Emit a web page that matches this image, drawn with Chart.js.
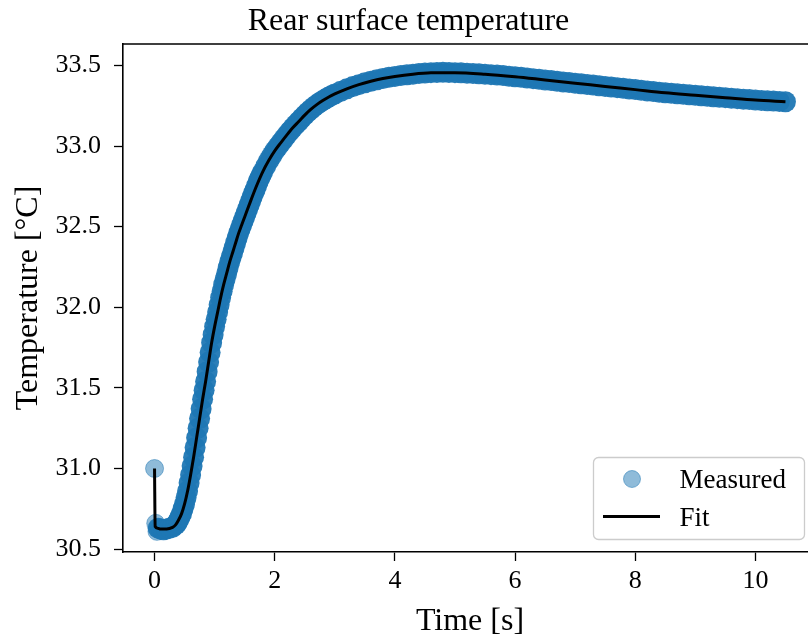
<!DOCTYPE html>
<html><head><meta charset="utf-8">
<script src="https://cdn.jsdelivr.net/npm/chart.js@4.4.1/dist/chart.umd.min.js"></script>
<style>
html,body{margin:0;padding:0;background:#fff;overflow:hidden;}
#wrap{position:relative;width:808px;height:644px;overflow:hidden;background:#fff;}
canvas{display:block;}
</style></head><body>
<div id="wrap"><canvas id="c" width="840" height="644" style="width:840px;height:644px"></canvas></div>
<script>
const titleText = 'Rear surface temperature';
const xLabel = 'Time [s]';
const yLabel = 'Temperature [°C]';
const legendLabels = ['Measured', 'Fit'];
const xTicks = [0, 2, 4, 6, 8, 10];
const yTicks = [30.5, 31.0, 31.5, 32.0, 32.5, 33.0, 33.5];

const measuredTime = [
  0, 0.02, 0.04, 0.06, 0.10, 0.15, 0.20, 0.25, 0.30, 0.35,
  0.375, 0.400, 0.425, 0.450, 0.475, 0.500, 0.525, 0.550, 0.575, 0.600,
  0.625, 0.650, 0.675, 0.700, 0.725, 0.750, 0.775, 0.800, 0.825, 0.850,
  0.875, 0.900, 0.925, 0.950, 0.975, 1.000, 1.025, 1.050, 1.075, 1.100,
  1.125, 1.150, 1.175, 1.200, 1.225, 1.250, 1.275, 1.300, 1.325, 1.350,
  1.375, 1.400, 1.425, 1.450, 1.475, 1.500, 1.525, 1.550, 1.575, 1.600,
  1.625, 1.650, 1.675, 1.700, 1.725, 1.750, 1.775, 1.800,
  1.85, 1.90, 1.95, 2.00, 2.05, 2.10, 2.15, 2.20, 2.25, 2.30,
  2.35, 2.40, 2.45, 2.50, 2.55, 2.60, 2.65, 2.70, 2.75, 2.80,
  2.85, 2.90, 2.95, 3.00,
  3.1, 3.2, 3.3, 3.4, 3.5, 3.6, 3.7, 3.8, 3.9, 4.0,
  4.1, 4.2, 4.3, 4.4, 4.5, 4.6, 4.7, 4.8, 4.9, 5.0,
  5.1, 5.2, 5.3, 5.4, 5.5, 5.6, 5.7, 5.8, 5.9, 6.0,
  6.1, 6.2, 6.3, 6.4, 6.5, 6.6, 6.7, 6.8, 6.9, 7.0,
  7.1, 7.2, 7.3, 7.4, 7.5, 7.6, 7.7, 7.8, 7.9, 8.0,
  8.1, 8.2, 8.3, 8.4, 8.5, 8.6, 8.7, 8.8, 8.9, 9.0,
  9.1, 9.2, 9.3, 9.4, 9.5, 9.6, 9.7, 9.8, 9.9, 10.0,
  10.1, 10.2, 10.3, 10.4, 10.5
];
const measuredTemp = [
  31.00, 30.66, 30.61, 30.63, 30.625, 30.62, 30.625, 30.63, 30.635, 30.65,
  30.663, 30.68, 30.70, 30.72, 30.75, 30.78, 30.82, 30.86, 30.91, 30.96,
  31.015, 31.07, 31.13, 31.19, 31.25, 31.31, 31.37, 31.43, 31.485, 31.54,
  31.60, 31.66, 31.72, 31.78, 31.83, 31.88, 31.925, 31.97, 32.015, 32.06,
  32.10, 32.14, 32.175, 32.21, 32.245, 32.28, 32.31, 32.34, 32.37, 32.40,
  32.43, 32.46, 32.485, 32.51, 32.535, 32.56, 32.585, 32.61, 32.635, 32.66,
  32.685, 32.71, 32.73, 32.755, 32.78, 32.80, 32.82, 32.84,
  32.875, 32.91, 32.94, 32.97, 32.995, 33.02, 33.044, 33.068, 33.091, 33.113,
  33.133, 33.152, 33.173, 33.192, 33.21, 33.227, 33.243, 33.257, 33.27, 33.282,
  33.293, 33.304, 33.314, 33.323,
  33.34, 33.355, 33.369, 33.381, 33.392, 33.402, 33.411, 33.419, 33.426, 33.432,
  33.437, 33.442, 33.446, 33.45, 33.453, 33.455, 33.456, 33.457, 33.456, 33.455,
  33.454, 33.452, 33.45, 33.448, 33.446, 33.443, 33.44, 33.437, 33.433, 33.43,
  33.426, 33.422, 33.418, 33.414, 33.41, 33.406, 33.402, 33.398, 33.394, 33.39,
  33.386, 33.382, 33.378, 33.374, 33.37, 33.366, 33.362, 33.358, 33.354, 33.35,
  33.346, 33.342, 33.338, 33.334, 33.33, 33.327, 33.324, 33.321, 33.318, 33.315,
  33.312, 33.309, 33.306, 33.303, 33.30, 33.297, 33.294, 33.291, 33.288, 33.285,
  33.283, 33.281, 33.279, 33.277, 33.275
];

const fitTime = [
  0, 0.01, 0.05, 0.1, 0.2, 0.3, 0.35,
  0.4, 0.45, 0.5, 0.55, 0.6, 0.65, 0.7, 0.75, 0.8, 0.85, 0.9, 0.95, 1.0,
  1.05, 1.1, 1.15, 1.2, 1.25, 1.3, 1.35, 1.4, 1.45, 1.5,
  1.6, 1.7, 1.8, 1.9, 2.0, 2.1, 2.2, 2.3, 2.4, 2.5, 2.6, 2.7, 2.8, 2.9, 3.0,
  3.2, 3.4, 3.6, 3.8, 4.0, 4.3, 4.6, 5.0, 5.5, 6.0, 6.5, 7.0, 7.5, 8.0, 8.5, 9.0, 9.5, 10.0, 10.5
];
const fitTemp = [
  31.00, 30.64, 30.63, 30.625, 30.625, 30.635, 30.65,
  30.68, 30.72, 30.78, 30.86, 30.96, 31.07, 31.19, 31.31, 31.43, 31.54, 31.66, 31.78, 31.88,
  31.97, 32.06, 32.14, 32.21, 32.28, 32.34, 32.40, 32.46, 32.51, 32.56,
  32.66, 32.755, 32.84, 32.91, 32.97, 33.02, 33.068, 33.113, 33.152, 33.192, 33.227, 33.257, 33.282, 33.304, 33.323,
  33.355, 33.381, 33.402, 33.419, 33.432, 33.446, 33.454, 33.455, 33.446, 33.43, 33.41, 33.39, 33.37, 33.35, 33.33, 33.315, 33.30, 33.285, 33.275
];

const FONT = 'Liberation Serif';
const BLUE_LIGHT = 'rgba(31,119,180,0.5)';
const BLUE_DENSE = 'rgba(31,119,180,0.95)';

const spinePlugin = {
  id: 'spines',
  afterDraw(chart) {
    const {ctx, chartArea: a} = chart;
    ctx.save();
    ctx.strokeStyle = '#000';
    ctx.lineWidth = 1.6;
    ctx.beginPath();
    ctx.moveTo(a.left - 0.8, a.top);
    ctx.lineTo(a.right + 0.8, a.top);
    ctx.moveTo(a.right, a.top);
    ctx.lineTo(a.right, a.bottom);
    ctx.stroke();
    ctx.restore();
  }
};

const legendPlugin = {
  id: 'mplLegend',
  afterDraw(chart) {
    const ctx = chart.ctx;
    const a = chart.chartArea;
    const bx = a.left + 470.5, by = a.top + 413.5, bw = 211, bh = 82;
    ctx.save();
    ctx.beginPath();
    ctx.roundRect(bx, by, bw, bh, 5);
    ctx.fillStyle = 'rgba(255,255,255,0.8)';
    ctx.fill();
    ctx.strokeStyle = '#cccccc';
    ctx.lineWidth = 1.3;
    ctx.stroke();
    ctx.beginPath();
    ctx.arc(bx + 38.5, by + 21.5, 8.5, 0, Math.PI * 2);
    ctx.fillStyle = BLUE_LIGHT;
    ctx.fill();
    ctx.strokeStyle = BLUE_LIGHT;
    ctx.lineWidth = 1;
    ctx.stroke();
    ctx.beginPath();
    ctx.moveTo(bx + 9.5, by + 59);
    ctx.lineTo(bx + 66.5, by + 59);
    ctx.strokeStyle = '#000';
    ctx.lineWidth = 3;
    ctx.stroke();
    ctx.fillStyle = '#000';
    ctx.font = '27px "' + FONT + '"';
    ctx.textBaseline = 'alphabetic';
    ctx.textAlign = 'left';
    ctx.fillText(legendLabels[0], bx + 86, by + 30);
    ctx.fillText(legendLabels[1], bx + 86, by + 68);
    ctx.restore();
  }
};

const ctx = document.getElementById('c').getContext('2d');
new Chart(ctx, {
  type: 'scatter',
  data: {
    datasets: [
      {
        label: legendLabels[1],
        data: fitTime.map((t, i) => ({x: t, y: fitTemp[i]})),
        showLine: true,
        borderColor: '#000',
        borderWidth: 3,
        pointRadius: 0,
        cubicInterpolationMode: 'monotone',
        fill: false,
        order: 1
      },
      {
        label: legendLabels[0],
        data: measuredTime.map((t, i) => ({x: t, y: measuredTemp[i]})),
        showLine: false,
        pointRadius: c => (c.dataIndex < 3 ? 9 : 10.5),
        pointBorderWidth: c => (c.dataIndex < 3 ? 1 : 0),
        pointBackgroundColor: c => (c.dataIndex < 3 ? BLUE_LIGHT : BLUE_DENSE),
        pointBorderColor: c => (c.dataIndex < 3 ? BLUE_LIGHT : BLUE_DENSE),
        order: 2
      }
    ]
  },
  options: {
    responsive: false,
    animation: false,
    devicePixelRatio: 1,
    layout: {padding: {left: 0, right: 23, top: 0, bottom: 0}},
    plugins: {
      legend: {display: false},
      tooltip: {enabled: false},
      title: {
        display: true,
        text: titleText,
        color: '#000',
        font: {family: FONT, size: 32, weight: 'normal', lineHeight: 1.2},
        padding: {top: 2, bottom: 3.6}
      }
    },
    scales: {
      x: {
        type: 'linear',
        min: -0.525,
        max: 11.025,
        afterBuildTicks: s => { s.ticks = xTicks.map(v => ({value: v})); },
        afterFit: s => { s.height = 92; },
        grid: {display: true, drawOnChartArea: false, drawTicks: true, tickLength: 9, tickWidth: 1.3, tickColor: '#000'},
        border: {display: true, color: '#000', width: 1.6},
        ticks: {color: '#000', font: {family: FONT, size: 26}, padding: 5, maxRotation: 0, autoSkip: false, callback: v => String(v)},
        title: {display: true, text: xLabel, color: '#000', font: {family: FONT, size: 32, lineHeight: 1.2}, padding: {top: 0, bottom: 3}}
      },
      y: {
        type: 'linear',
        min: 30.482,
        max: 33.633,
        afterBuildTicks: s => { s.ticks = yTicks.map(v => ({value: v})); },
        afterFit: s => { s.width = 123; },
        grid: {display: true, drawOnChartArea: false, drawTicks: true, tickLength: 9, tickWidth: 1.3, tickColor: '#000'},
        border: {display: true, color: '#000', width: 1.6},
        ticks: {color: '#000', font: {family: FONT, size: 26}, padding: 13, autoSkip: false, callback: v => v.toFixed(1)},
        title: {display: true, text: yLabel, color: '#000', font: {family: FONT, size: 32, lineHeight: 1.2}, padding: {top: 9, bottom: 0}}
      }
    }
  },
  plugins: [spinePlugin, legendPlugin]
});
</script>
</body></html>
